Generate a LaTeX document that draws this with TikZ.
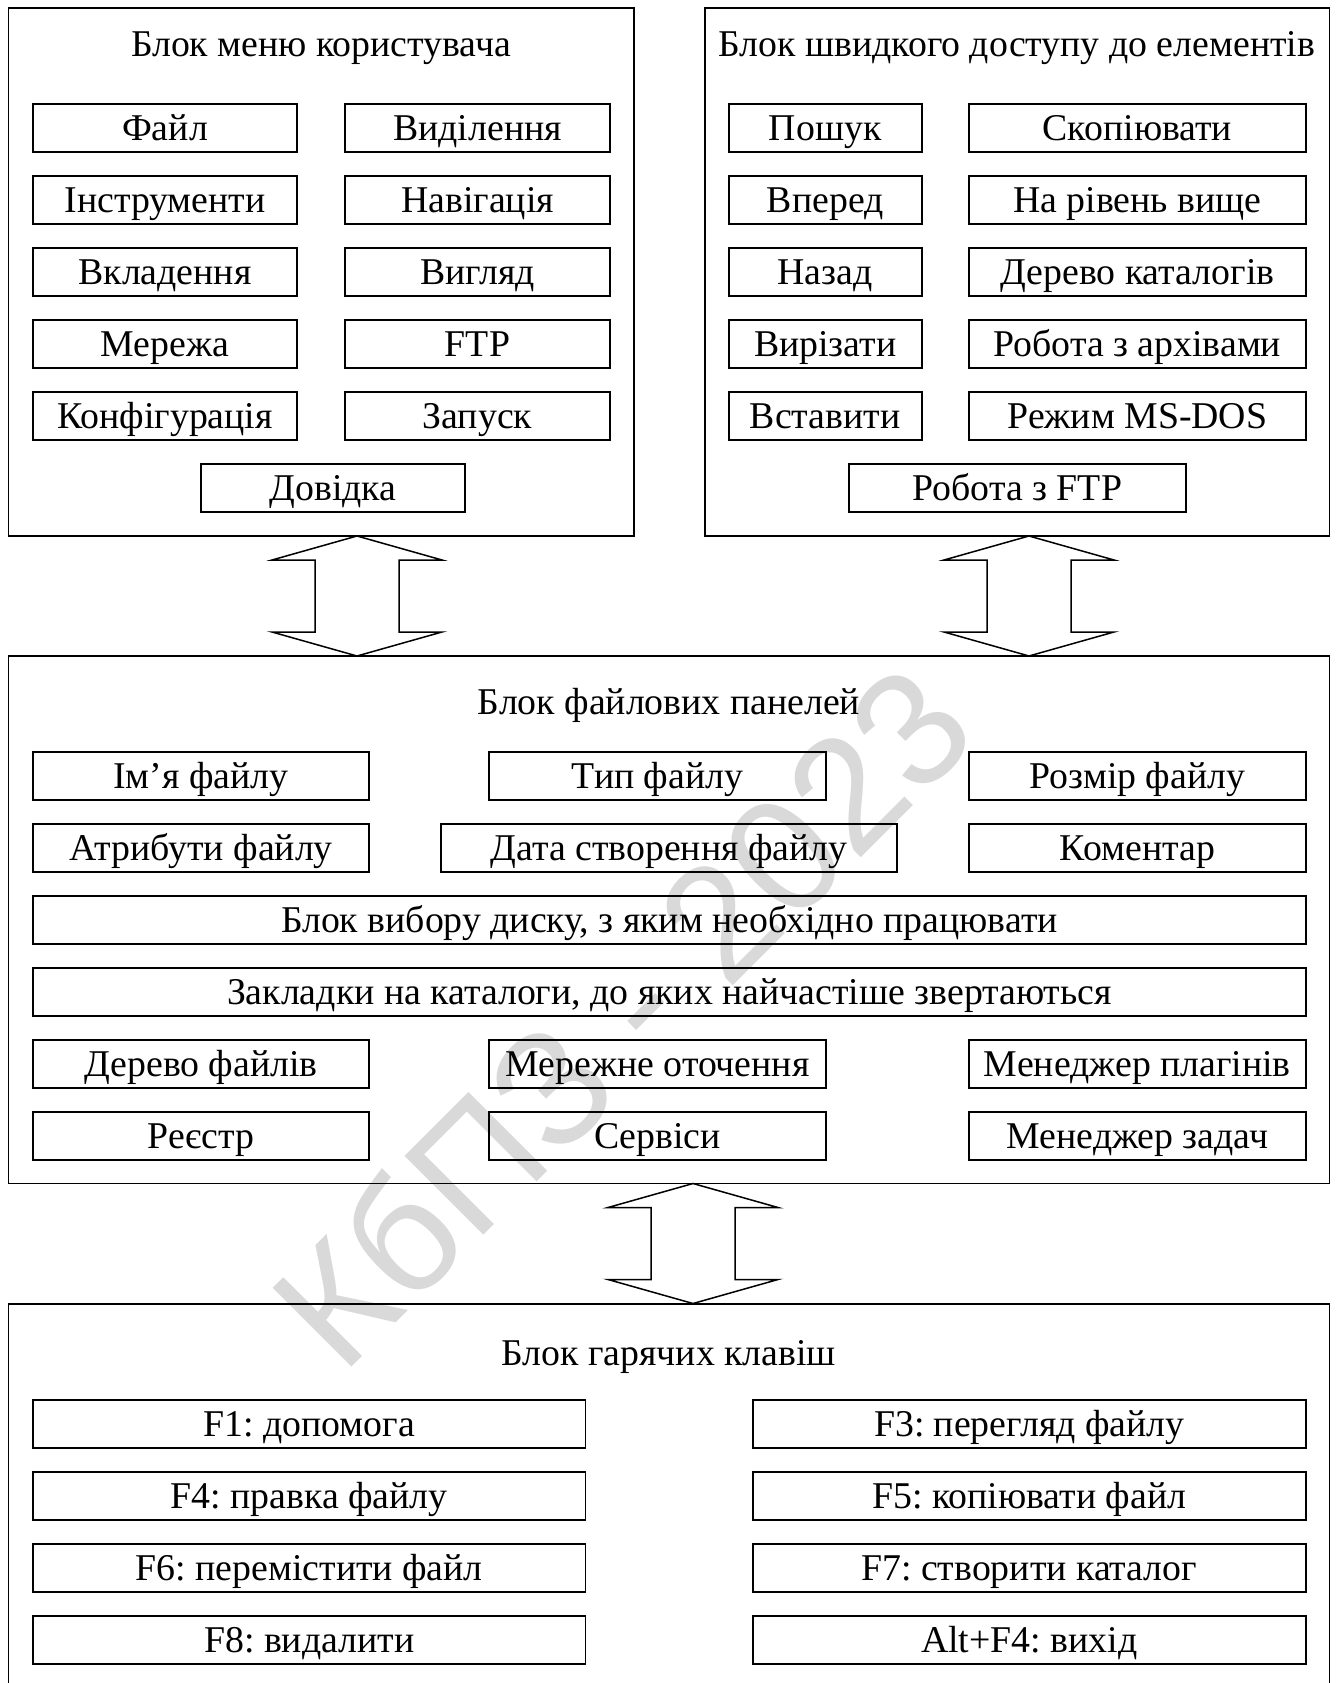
\documentclass[tikz,border=0pt]{standalone}
\usepackage{fontspec}
\setmainfont{Liberation Serif}
\newfontfamily\wmfont{Liberation Sans}
\definecolor{wmgray}{RGB}{217,217,217}
\frenchspacing
\tikzset{
  outer/.style={draw, line width=1.8pt, inner sep=0pt},
  ibox/.style={draw, line width=1.6pt, inner sep=0pt, minimum height=47.5pt,
    text height=24pt, text depth=0pt, font=\fontsize{37.8}{42}\selectfont},
  ttl/.style={anchor=base, inner sep=0pt, font=\fontsize{37.8}{42}\selectfont},
  bigarrow/.style={draw, line width=1.5pt, line join=miter},
}
\newcommand\dblarrow[1]{\draw[bigarrow] (#1) -- ++(85,24) -- ++(-43,0) -- ++(0,72) -- ++(43,0) -- ++(-85,24) -- ++(-85,-24) -- ++(43,0) -- ++(0,-72) -- ++(-43,0) -- cycle;}
\begin{document}
\begin{tikzpicture}[x=1pt,y=-1pt]
\useasboundingbox (0,0) rectangle (1336,1683);
\clip (0,0) rectangle (1336,1683);
\fill[white] (0,0) rectangle (1336,1683);
% watermark
\node[text=wmgray, rotate=45, anchor=base west, inner sep=0pt, font=\wmfont\fontsize{162}{162}\selectfont] (wm) at (342,1377) {КбПЗ - 2023};
% outer blocks
\node[outer, minimum width=625.5pt, minimum height=528pt] (TL) at (321.25,272) {};
\node[outer, minimum width=624.2pt, minimum height=528pt] (TR) at (1017.4,272) {};
\node[outer, minimum width=1321pt, minimum height=527.5pt] (MID) at (669,919.75) {};
\node[outer, minimum width=1321pt, minimum height=420pt] (BOT) at (669,1514) {};
% titles
\node[ttl] (tTL) at (321,56.5) {Блок меню користувача};
\node[ttl] (tTR) at (1016.8,56.5) {Блок швидкого доступу до елементів};
\node[ttl] (tMID) at (669,714) {Блок файлових панелей};
\node[ttl] (tBOT) at (668.7,1365) {Блок гарячих клавіш};
% top-left block
\begin{scope}[every node/.append style={ibox}]
\node[minimum width=264pt] (m1) at (165,128) {Файл};
\node[minimum width=264pt] (m2) at (165,200) {Інструменти};
\node[minimum width=264pt] (m3) at (165,272) {Вкладення};
\node[minimum width=264pt] (m4) at (165,344) {Мережа};
\node[minimum width=264pt] (m5) at (165,416) {Конфігурація};
\node[minimum width=265pt] (m6) at (477.5,128) {Виділення};
\node[minimum width=265pt] (m7) at (477.5,200) {Навігація};
\node[minimum width=265pt] (m8) at (477.5,272) {Вигляд};
\node[minimum width=265pt] (m9) at (477.5,344) {FTP};
\node[minimum width=265pt] (m10) at (477.5,416) {Запуск};
\node[minimum width=264pt] (m11) at (333,488) {Довідка};
% top-right block
\node[minimum width=193pt] (q1) at (825.2,128) {Пошук};
\node[minimum width=193pt] (q2) at (825.2,200) {Вперед};
\node[minimum width=193pt] (q3) at (825.2,272) {Назад};
\node[minimum width=193pt] (q4) at (825.2,344) {Вирізати};
\node[minimum width=193pt] (q5) at (825.2,416) {Вставити};
\node[minimum width=336.7pt] (q6) at (1137.4,128) {Скопіювати};
\node[minimum width=336.7pt] (q7) at (1137.4,200) {На рівень вище};
\node[minimum width=336.7pt] (q8) at (1137.4,272) {Дерево каталогів};
\node[minimum width=336.7pt] (q9) at (1137.4,344) {Робота з архівами};
\node[minimum width=336.7pt] (q10) at (1137.4,416) {Режим MS-DOS};
\node[minimum width=336.7pt] (q11) at (1017.4,488) {Робота з FTP};
% middle block
\node[minimum width=336pt] (f1) at (201,776) {Ім’я файлу};
\node[minimum width=337pt] (f2) at (657.5,776) {Тип файлу};
\node[minimum width=336.7pt] (f3) at (1137.4,776) {Розмір файлу};
\node[minimum width=336pt] (f4) at (201,848) {Атрибути файлу};
\node[minimum width=456pt] (f5) at (669,848) {Дата створення файлу};
\node[minimum width=336.7pt] (f6) at (1137.4,848) {Коментар};
\node[minimum width=1272.7pt] (f7) at (669.4,920) {Блок вибору диску, з яким необхідно працювати};
\node[minimum width=1272.7pt] (f8) at (669.4,992) {Закладки на каталоги, до яких найчастіше звертаються};
\node[minimum width=336pt] (f9) at (201,1064) {Дерево файлів};
\node[minimum width=337pt] (f10) at (657.5,1064) {Мережне оточення};
\node[minimum width=336.7pt] (f11) at (1137.4,1064) {Менеджер плагінів};
\node[minimum width=336pt] (f12) at (201,1136) {Реєстр};
\node[minimum width=337pt] (f13) at (657.5,1136) {Сервіси};
\node[minimum width=336.7pt] (f14) at (1137.4,1136) {Менеджер задач};
% bottom block
\node[minimum width=552.5pt] (k1) at (309.25,1424) {F1: допомога};
\node[minimum width=552.5pt] (k2) at (309.25,1496) {F4: правка файлу};
\node[minimum width=552.5pt] (k3) at (309.25,1568) {F6: перемістити файл};
\node[minimum width=552.5pt] (k4) at (309.25,1640) {F8: видалити};
\node[minimum width=553pt] (k5) at (1029.25,1424) {F3: перегляд файлу};
\node[minimum width=553pt] (k6) at (1029.25,1496) {F5: копіювати файл};
\node[minimum width=553pt] (k7) at (1029.25,1568) {F7: створити каталог};
\node[minimum width=553pt] (k8) at (1029.25,1640) {Alt+F4: вихід};
\end{scope}
% double arrows between blocks
\coordinate (a1) at (357,536);
\coordinate (a2) at (1029,536);
\coordinate (a3) at (693,1183.5);
\dblarrow{a1}
\dblarrow{a2}
\dblarrow{a3}
\end{tikzpicture}
\end{document}
